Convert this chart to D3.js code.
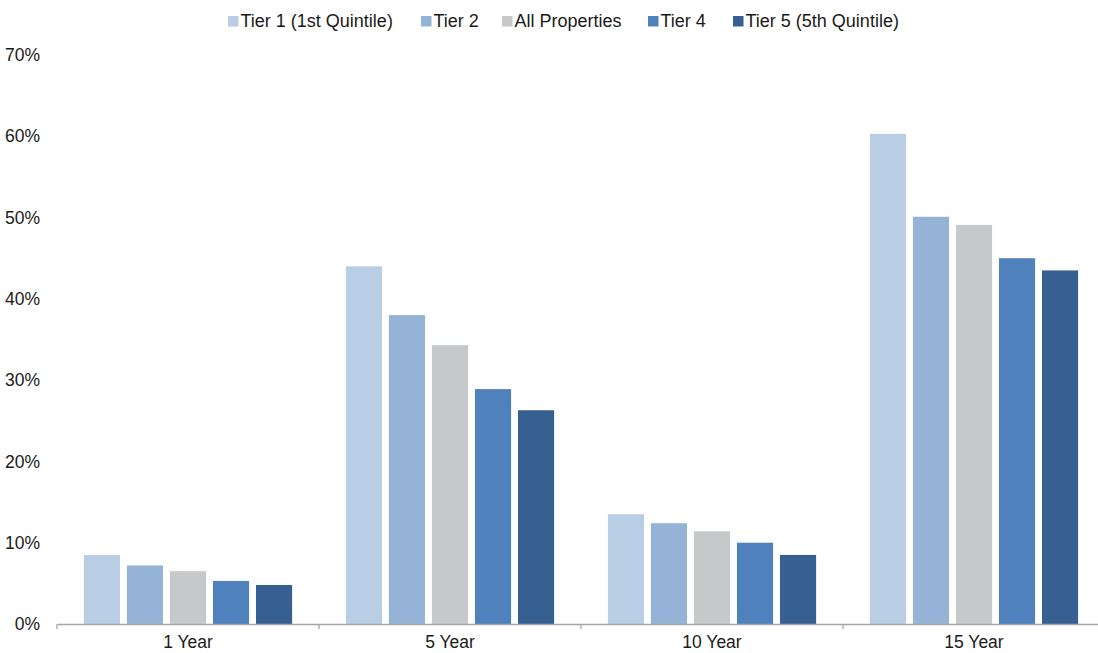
<!DOCTYPE html>
<html>
<head>
<meta charset="utf-8">
<script src="https://cdn.jsdelivr.net/npm/d3@7"></script>
<style>
  html, body { margin: 0; padding: 0; background: #fff; }
  svg { display: block; font-family: "Liberation Sans", Arial, sans-serif; }
</style>
</head>
<body>
<svg id="chart" width="1098" height="653"></svg>
<script>
// Appreciation by price tier over several horizons
const periods = ["1 Year", "5 Year", "10 Year", "15 Year"];
const seriesNames = ["Tier 1 (1st Quintile)", "Tier 2", "All Properties", "Tier 4", "Tier 5 (5th Quintile)"];
const seriesColors = ["#b9cde5", "#95b3d7", "#c7c8ca", "#4f81bd", "#366092"];
const tier1 = [8.5, 44.0, 13.5, 60.3];
const tier2 = [7.2, 38.0, 12.4, 50.1];
const allProps = [6.5, 34.3, 11.4, 49.1];
const tier4 = [5.3, 28.9, 10.0, 45.0];
const tier5 = [4.8, 26.3, 8.5, 43.5];
const yTicks = [0, 10, 20, 30, 40, 50, 60, 70];

const seriesValues = [tier1, tier2, allProps, tier4, tier5];

const svg = d3.select("#chart");
const plotLeft = 57, plotRight = 1105, plotTop = 55, plotBottom = 624;
const axisFont = 17.5, legendFont = 18, textColor = "#1a1a1a";

const x0 = d3.scaleBand().domain(periods).range([plotLeft, plotRight]).padding(0);
const x1 = d3.scaleBand().domain(seriesNames).range([0, x0.bandwidth()])
  .paddingInner(0.16).paddingOuter(0.625);
const y = d3.scaleLinear().domain([0, 70]).range([plotBottom, plotTop]);

// Bars
const groups = svg.append("g").selectAll("g")
  .data(periods)
  .join("g")
  .attr("transform", d => `translate(${x0(d)},0)`);

groups.selectAll("rect")
  .data((p, i) => seriesNames.map((s, k) => ({ s, k, v: seriesValues[k][i] })))
  .join("rect")
  .attr("x", d => x1(d.s))
  .attr("width", x1.bandwidth())
  .attr("y", d => y(d.v))
  .attr("height", d => y(0) - y(d.v))
  .attr("fill", d => seriesColors[d.k]);

// Y axis labels (no line)
const yAxis = d3.axisLeft(y).tickValues(yTicks).tickFormat(d => d + "%").tickSize(0).tickPadding(0);
const yg = svg.append("g").attr("transform", `translate(40,0)`).call(yAxis);
yg.select(".domain").remove();
yg.selectAll("text").attr("font-size", axisFont).attr("fill", textColor)
  .attr("font-family", "Liberation Sans, Arial, sans-serif");

// X axis
const xAxis = d3.axisBottom(x0).tickSize(0).tickPadding(12);
const xg = svg.append("g").attr("transform", `translate(0,${plotBottom})`).call(xAxis);
xg.select(".domain").attr("stroke", "#a6a6a6").attr("stroke-width", 1.3);
xg.selectAll("text").attr("font-size", axisFont).attr("fill", textColor)
  .attr("font-family", "Liberation Sans, Arial, sans-serif");
// category separator ticks
const sepPositions = periods.map(p => x0(p)).concat([x0(periods[periods.length - 1]) + x0.bandwidth()]);
xg.selectAll("line.sep")
  .data(sepPositions)
  .join("line")
  .attr("class", "sep")
  .attr("x1", d => d).attr("x2", d => d)
  .attr("y1", 0).attr("y2", 5)
  .attr("stroke", "#a6a6a6").attr("stroke-width", 1.3);

// Legend
const legendX = [228, 421, 502, 648, 733];
const legend = svg.append("g").selectAll("g")
  .data(seriesNames)
  .join("g")
  .attr("transform", (d, i) => `translate(${legendX[i]},21)`);
legend.append("rect")
  .attr("x", 0).attr("y", -5).attr("width", 10.5).attr("height", 10.5)
  .attr("fill", (d, i) => seriesColors[i]);
legend.append("text")
  .attr("x", 12.5).attr("y", 0).attr("dy", "0.36em")
  .attr("font-size", legendFont).attr("fill", textColor)
  .text(d => d);
</script>
</body>
</html>
